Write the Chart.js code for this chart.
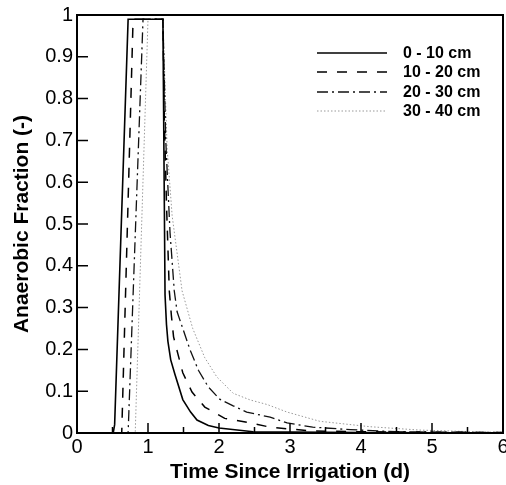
<!DOCTYPE html>
<html>
<head>
<meta charset="utf-8">
<script src="https://cdn.jsdelivr.net/npm/chart.js@4.4.1/dist/chart.umd.min.js"></script>
<style>
  body { margin: 0; background: #fff; }
  canvas { display: block; }
</style>
</head>
<body>
<canvas id="anaerobicChart" width="506" height="485"></canvas>
<script>
// Values: time (d) and anaerobic fraction (-) per depth layer
const depthLabels = ['0 - 10 cm', '10 - 20 cm', '20 - 30 cm', '30 - 40 cm'];

const days0to10 = [0, 0.51, 0.53, 0.72, 1.21, 1.23, 1.24, 1.26, 1.28, 1.32, 1.38, 1.49, 1.60, 1.69, 1.85, 2.0, 2.48, 3.0, 4.0, 6.0];
const frac0to10 = [0, 0, 0.02, 0.99, 0.99, 0.55, 0.33, 0.26, 0.22, 0.175, 0.14, 0.08, 0.05, 0.031, 0.018, 0.012, 0.003, 0.002, 0.001, 0];

const days10to20 = [0, 0.63, 0.79, 1.21, 1.23, 1.26, 1.30, 1.33, 1.36, 1.42, 1.49, 1.62, 1.80, 2.08, 2.44, 2.72, 3.28, 4.0, 5.0, 6.0];
const frac10to20 = [0, 0, 0.99, 0.99, 0.75, 0.55, 0.34, 0.28, 0.23, 0.19, 0.144, 0.098, 0.062, 0.035, 0.024, 0.014, 0.005, 0.003, 0.002, 0.001];

const days20to30 = [0, 0.72, 0.93, 1.21, 1.25, 1.31, 1.37, 1.41, 1.49, 1.59, 1.71, 1.85, 2.01, 2.20, 2.39, 2.72, 2.96, 3.32, 3.85, 4.5, 6.0];
const frac20to30 = [0, 0, 0.99, 0.99, 0.70, 0.48, 0.34, 0.29, 0.25, 0.20, 0.15, 0.11, 0.081, 0.065, 0.05, 0.038, 0.024, 0.014, 0.008, 0.003, 0.001];

const days30to40 = [0, 0.82, 1.0, 1.21, 1.27, 1.34, 1.48, 1.63, 1.80, 1.97, 2.20, 2.44, 2.68, 2.96, 3.42, 4.13, 4.83, 5.77, 6.0];
const frac30to40 = [0, 0, 0.99, 0.99, 0.68, 0.52, 0.34, 0.25, 0.18, 0.134, 0.095, 0.079, 0.068, 0.05, 0.028, 0.015, 0.007, 0.002, 0.002];

// Tick values / labels
const xTicks = [0, 1, 2, 3, 4, 5, 6];
const xMinorTicks = [0.5, 1.5, 2.5, 3.5, 4.5, 5.5];
const yTicks = [0, 0.1, 0.2, 0.3, 0.4, 0.5, 0.6, 0.7, 0.8, 0.9, 1];
const yTickLabels = ['0', '0.1', '0.2', '0.3', '0.4', '0.5', '0.6', '0.7', '0.8', '0.9', '1'];

const FONT = '"Liberation Sans", Arial, Helvetica, sans-serif';

function pairs(xs, ys) {
    return xs.map((x, i) => ({ x: x, y: ys[i] }));
}

const datasets = [
    { label: depthLabels[0], data: pairs(days0to10, frac0to10), borderColor: '#000', borderWidth: 1.6, borderDash: [] },
    { label: depthLabels[1], data: pairs(days10to20, frac10to20), borderColor: '#000', borderWidth: 1.5, borderDash: [10, 10] },
    { label: depthLabels[2], data: pairs(days20to30, frac20to30), borderColor: '#111', borderWidth: 1.3, borderDash: [11, 4, 2, 4] },
    { label: depthLabels[3], data: pairs(days30to40, frac30to40), borderColor: '#999', borderWidth: 1, borderDash: [1.5, 2] },
].map(d => Object.assign(d, { pointRadius: 0, tension: 0, fill: false }));

// Frame, inward tick marks and the legend inside the plot
const framePlugin = {
    id: 'frame',
    afterDatasetsDraw(chart) {
        const { ctx, chartArea: a, scales: { x, y } } = chart;
        ctx.save();
        ctx.strokeStyle = '#000';
        ctx.setLineDash([]);

        ctx.lineWidth = 1.5;
        ctx.beginPath();
        xTicks.forEach(v => {
            const px = x.getPixelForValue(v);
            ctx.moveTo(px, a.bottom); ctx.lineTo(px, a.bottom - 10);
        });
        xMinorTicks.forEach(v => {
            const px = x.getPixelForValue(v);
            ctx.moveTo(px, a.bottom); ctx.lineTo(px, a.bottom - 6);
        });
        yTicks.forEach(v => {
            const py = y.getPixelForValue(v);
            ctx.moveTo(a.left, py); ctx.lineTo(a.left + 11, py);
        });
        ctx.stroke();

        ctx.lineWidth = 2;
        ctx.strokeRect(a.left, a.top, a.right - a.left, a.bottom - a.top);

        // legend
        const lx0 = 317, lx1 = 387, tx = 403;
        const rows = [53, 72, 92, 111];
        ctx.font = 'bold 16px ' + FONT;
        ctx.textBaseline = 'middle';
        ctx.fillStyle = '#000';
        chart.data.datasets.forEach((ds, i) => {
            ctx.strokeStyle = ds.borderColor;
            ctx.lineWidth = ds.borderWidth;
            ctx.setLineDash(ds.borderDash);
            ctx.beginPath();
            ctx.moveTo(lx0, rows[i]); ctx.lineTo(lx1, rows[i]);
            ctx.stroke();
            ctx.fillText(ds.label, tx, rows[i] + 1);
        });
        ctx.restore();
    }
};

new Chart(document.getElementById('anaerobicChart'), {
    type: 'line',
    data: { datasets: datasets },
    options: {
        responsive: false,
        animation: false,
        layout: { padding: { top: 15, right: 3, left: 0, bottom: 0 } },
        plugins: {
            legend: { display: false },
            tooltip: { enabled: false }
        },
        scales: {
            x: {
                type: 'linear',
                min: 0,
                max: 6,
                afterFit: s => { s.height = 52; s.paddingLeft = 0; s.paddingRight = 0; },
                afterBuildTicks: s => { s.ticks = xTicks.map(v => ({ value: v })); },
                ticks: {
                    color: '#000',
                    padding: 2,
                    font: { family: FONT, size: 20 },
                    callback: v => String(v)
                },
                grid: { display: false, drawTicks: false },
                border: { display: false },
                title: {
                    display: true,
                    text: 'Time Since Irrigation (d)',
                    color: '#000',
                    font: { family: FONT, size: 21, weight: 'bold' },
                    padding: { top: 0, bottom: 0 }
                }
            },
            y: {
                min: 0,
                max: 1,
                afterFit: s => { s.width = 77; s.paddingTop = 0; s.paddingBottom = 0; },
                afterBuildTicks: s => { s.ticks = yTicks.map(v => ({ value: v })); },
                ticks: {
                    color: '#000',
                    padding: 4,
                    font: { family: FONT, size: 20 },
                    callback: (v, i) => yTickLabels[i]
                },
                grid: { display: false, drawTicks: false },
                border: { display: false },
                title: {
                    display: true,
                    text: 'Anaerobic Fraction (-)',
                    color: '#000',
                    font: { family: FONT, size: 21, weight: 'bold' },
                    padding: { top: 10, bottom: 0 }
                }
            }
        }
    },
    plugins: [framePlugin]
});
</script>
</body>
</html>
